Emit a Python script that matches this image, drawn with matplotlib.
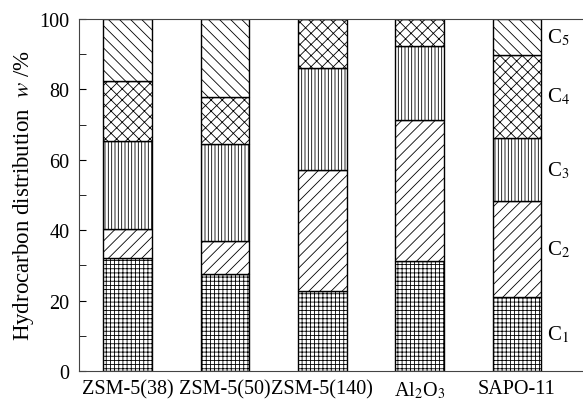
import matplotlib
matplotlib.use("Agg")
import matplotlib.pyplot as plt
import numpy as np
from matplotlib.ticker import MultipleLocator

plt.rcParams['font.family'] = ['Liberation Serif', 'DejaVu Serif']
plt.rcParams['mathtext.fontset'] = 'stix'
plt.rcParams['hatch.linewidth'] = 0.6

categories = ['ZSM-5(38)', 'ZSM-5(50)', 'ZSM-5(140)', 'Al$_2$O$_3$', 'SAPO-11']
C1 = [32.0, 27.5, 22.6, 31.2, 20.9]
C2 = [8.3, 9.4, 34.4, 40.2, 27.3]
C3 = [25.1, 27.7, 29.0, 21.0, 18.1]
C4 = [17.1, 13.3, 14.0, 7.6, 23.6]
C5 = [17.5, 22.1, 0.0, 0.0, 10.1]
series = [C1, C2, C3, C4, C5]
series_labels = ['C$_1$', 'C$_2$', 'C$_3$', 'C$_4$', 'C$_5$']
hatches = ['++++', '///', '|||||', 'xxx', '\\\\\\']

fig = plt.figure(figsize=(5.83, 4.02), dpi=100)
ax = fig.add_axes([79/583, 30/402, 1 - 79/583, 352/402])

x = np.arange(len(categories))
bottom = np.zeros(len(categories))
for vals, h in zip(series, hatches):
    vals = np.array(vals)
    ax.bar(x, vals, width=0.5, bottom=bottom, color='white', edgecolor='black',
           hatch=h, linewidth=1.0)
    bottom += vals

# series labels next to last bar
last = len(categories) - 1
cum = 0
for vals, lab in zip(series, series_labels):
    mid = cum + vals[last] / 2
    cum += vals[last]
    ax.text(last + 0.31, mid, lab, fontsize=15, va='center', ha='left')

ax.set_xlim(-0.5, 4.68)
ax.set_ylim(0, 100)
ax.set_xticks(x)
ax.set_xticklabels(categories, fontsize=14.5)
ax.tick_params(axis='x', length=0, pad=6)
ax.yaxis.set_major_locator(MultipleLocator(20))
ax.yaxis.set_minor_locator(MultipleLocator(10))
ax.tick_params(axis='y', which='major', direction='in', length=5, labelsize=14.5, pad=7)
ax.tick_params(axis='y', which='minor', direction='in', length=5)
ax.spines['right'].set_visible(False)
for s in ['left', 'top', 'bottom']:
    ax.spines[s].set_color('#444444')
ax.set_ylabel('Hydrocarbon distribution  $w$ /%', fontsize=16.5, labelpad=2)

fig.savefig('out.png', dpi=100)
